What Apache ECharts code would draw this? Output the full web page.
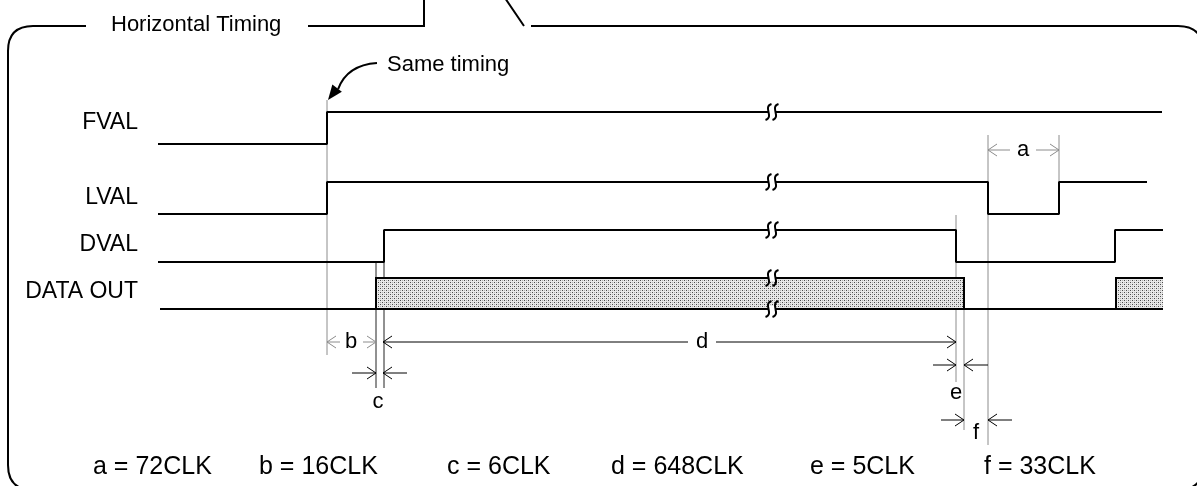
<!DOCTYPE html>
<html><head><meta charset="utf-8">
<script src="https://cdn.jsdelivr.net/npm/echarts@6/dist/echarts.min.js"></script>
<style>html,body{margin:0;padding:0;background:#fff}#c{width:1197px;height:486px}</style>
</head><body><div id="c"></div>
<script>
// ---------------- data ----------------
const signalNames = ['FVAL', 'LVAL', 'DVAL', 'DATA OUT'];
const laneHigh = [112, 182, 230, 278];
const laneLow  = [144, 214, 262, 309];
const labelY   = [123, 198, 245, 292];
const fvalWave = [[158,0],[327,0],[327,1],[1162,1]];
const lvalWave = [[158,0],[327,0],[327,1],[988,1],[988,0],[1059,0],[1059,1],[1147,1]];
const dvalWave = [[158,0],[384,0],[384,1],[956,1],[956,0],[1115,0],[1115,1],[1163,1]];
const dataBaseline = [[160,0],[1163,0]];
const dataBoxes = [[376,964,1],[1116,1163,0]];
const breakMarks = [[772,112],[772,182],[772,230],[772,278],[772,309]];
const grayGuides = [[327,100,355],[956,215,382],[964,278,430],[988,135,445],[1059,135,182]];
const blackGuides = [[376,262,388],[384,230,388]];
const grayArrows = [[1010,988,150],[1036,1059,150],[340,327,342],[363,376,342]];
const blackArrows = [[688,383,342],[716,956,342],[352,376,373],[407,383,373],[933,956,365],[988,964,365],[941,964,420],[1012,988,420]];
const dimLabels = ['a','b','c','d','e','f'];
const dimLabelPos = [[1023,150],[351,342],[378,402],[702,342],[956,393],[976,433]];
const legendTexts = ['a = 72CLK','b = 16CLK','c = 6CLK','d = 648CLK','e = 5CLK','f = 33CLK'];
const legendX = [93,259,447,611,810,984];
const legendY = 467;
const titleText = 'Horizontal Timing';
const titlePos = [111, 25];
const noteText = 'Same timing';
const notePos = [387, 65];
const noteArrow = [[377,63],[328,100]];

// ---------------- helpers ----------------
const FONT = '"Liberation Sans", Arial, Helvetica, sans-serif';
function waveData(wave, lane) {
  return wave.map(p => [p[0], p[1] ? laneHigh[lane] : laneLow[lane]]);
}
const pat = document.createElement('canvas');
pat.width = 4; pat.height = 4;
(function () {
  const g = pat.getContext('2d');
  g.fillStyle = '#e8e8e8'; g.fillRect(0, 0, 4, 4);
  g.fillStyle = '#4a4a4a'; g.fillRect(0, 0, 1, 1); g.fillRect(2, 2, 1, 1);
  g.fillStyle = '#b0b0b0'; g.fillRect(2, 0, 1, 1); g.fillRect(0, 2, 1, 1);
})();

function textSeries(data, texts, font, align) {
  return {
    type: 'custom', z: 10, silent: true,
    data: data,
    renderItem: (params, api) => {
      const p = api.coord([api.value(0), api.value(1)]);
      return { type: 'text', x: p[0], y: p[1],
        style: { text: texts[params.dataIndex], font: font, fill: '#000', align: align, verticalAlign: 'middle' } };
    }
  };
}
function guideSeries(data, color) {
  return {
    type: 'custom', z: 1, silent: true, data: data,
    renderItem: (params, api) => {
      const a = api.coord([api.value(0), api.value(1)]);
      const b = api.coord([api.value(0), api.value(2)]);
      return { type: 'line', shape: { x1: a[0], y1: a[1], x2: b[0], y2: b[1] },
        style: { stroke: color, lineWidth: 1 } };
    }
  };
}
function arrowSeries(data, color) {
  return {
    type: 'custom', z: 2, silent: true, data: data,
    renderItem: (params, api) => {
      const a = api.coord([api.value(0), api.value(2)]);
      const b = api.coord([api.value(1), api.value(2)]);
      const s = b[0] > a[0] ? 1 : -1;
      return { type: 'group', children: [
        { type: 'line', shape: { x1: a[0], y1: a[1], x2: b[0], y2: b[1] }, style: { stroke: color, lineWidth: 1 } },
        { type: 'polyline', shape: { points: [[b[0] - s * 9, b[1] - 6], [b[0], b[1]], [b[0] - s * 9, b[1] + 6]] },
          style: { stroke: color, lineWidth: 1, fill: null } }
      ] };
    }
  };
}
function lineSeries(data) {
  return { type: 'line', data: data, symbol: 'none', z: 5, silent: true,
    lineStyle: { color: '#000', width: 2 }, clip: false };
}

const chart = echarts.init(document.getElementById('c'), null, { renderer: 'canvas' });
chart.setOption({
  animation: false,
  backgroundColor: '#fff',
  grid: { left: 0, right: 0, top: 0, bottom: 0 },
  xAxis: { type: 'value', min: 0, max: 1197, show: false },
  yAxis: { type: 'value', min: 0, max: 486, inverse: true, show: false },
  series: [
    // frame
    {
      type: 'custom', z: 1, silent: true, data: [[0, 0]],
      renderItem: (params, api) => {
        const c = (x, y) => api.coord([x, y]).join(' ');
        const L = 8, R = 1203, T = 26, B = 490, r = 25;
        const d = 'M' + c(86, T) + ' L' + c(L + r, T) + ' Q' + c(L, T) + ' ' + c(L, T + r) +
          ' L' + c(L, B - r) + ' Q' + c(L, B) + ' ' + c(L + r, B) + ' L' + c(R - r, B) +
          ' Q' + c(R, B) + ' ' + c(R, B - r) + ' L' + c(R, T + r) + ' Q' + c(R, T) + ' ' + c(R - r, T) +
          ' L' + c(531, T) +
          ' M' + c(308, T) + ' L' + c(424, T) + ' L' + c(424, -2) +
          ' M' + c(505, -2) + ' L' + c(524, T);
        return { type: 'path', shape: { pathData: d }, style: { stroke: '#000', lineWidth: 2, fill: null } };
      }
    },
    guideSeries(grayGuides, '#8c8c8c'),
    guideSeries(blackGuides, '#222'),
    arrowSeries(grayArrows, '#8c8c8c'),
    arrowSeries(blackArrows, '#000'),
    // data-out shaded boxes
    {
      type: 'custom', z: 3, silent: true, data: dataBoxes,
      renderItem: (params, api) => {
        const x0 = api.value(0), x1 = api.value(1), closed = api.value(2);
        const tl = api.coord([x0, laneHigh[3]]), br = api.coord([x1, laneLow[3]]);
        const pts = [[tl[0], br[1]], [tl[0], tl[1]], [br[0], tl[1]]];
        if (closed) pts.push([br[0], br[1]]);
        return { type: 'group', children: [
          { type: 'rect', shape: { x: tl[0], y: tl[1], width: br[0] - tl[0], height: br[1] - tl[1] },
            style: { fill: { image: pat, repeat: 'repeat' } } },
          { type: 'polyline', shape: { points: pts }, style: { stroke: '#000', lineWidth: 2, fill: null } }
        ] };
      }
    },
    lineSeries(waveData(fvalWave, 0)),
    lineSeries(waveData(lvalWave, 1)),
    lineSeries(waveData(dvalWave, 2)),
    lineSeries(waveData(dataBaseline, 3)),
    // break marks
    {
      type: 'custom', z: 8, silent: true, data: breakMarks,
      renderItem: (params, api) => {
        const p = api.coord([api.value(0), api.value(1)]);
        const x = p[0], y = p[1];
        const s = (x0) => 'M' + (x0 + 3) + ' ' + (y - 8) + ' C' + (x0 - 6) + ' ' + (y - 5) + ' ' +
          (x0 + 6) + ' ' + (y + 5) + ' ' + (x0 - 3) + ' ' + (y + 8);
        return { type: 'group', children: [
          { type: 'rect', shape: { x: x - 3, y: y - 3, width: 6, height: 6 }, style: { fill: '#fff' } },
          { type: 'path', shape: { pathData: s(x - 3.5) + ' ' + s(x + 3.5) },
            style: { stroke: '#000', lineWidth: 2, fill: null } }
        ] };
      }
    },
    // "Same timing" curved arrow
    {
      type: 'custom', z: 9, silent: true, data: [noteArrow[0].concat(noteArrow[1])],
      renderItem: (params, api) => {
        const a = api.coord([api.value(0), api.value(1)]);
        const b = api.coord([api.value(2), api.value(3)]);
        const cx = a[0] - 30, cy = a[1] + 2;
        const ang = Math.atan2(b[1] - (a[1] + 20), b[0] - (a[0] - 36));
        const len = 15, w = 6;
        const bx = b[0] - Math.cos(ang) * len, by = b[1] - Math.sin(ang) * len;
        const nx = -Math.sin(ang) * w, ny = Math.cos(ang) * w;
        return { type: 'group', children: [
          { type: 'path', shape: { pathData: 'M' + a[0] + ' ' + a[1] + ' Q' + cx + ' ' + cy + ' ' + (bx + 1) + ' ' + (by + 1) },
            style: { stroke: '#000', lineWidth: 2, fill: null } },
          { type: 'polygon', shape: { points: [[b[0], b[1]], [bx + nx, by + ny], [bx - nx, by - ny]] },
            style: { fill: '#000' } }
        ] };
      }
    },
    textSeries(labelY.map(y => [138, y]), signalNames, '23px ' + FONT, 'right'),
    textSeries(dimLabelPos, dimLabels, '22px ' + FONT, 'center'),
    textSeries(legendX.map(x => [x, legendY]), legendTexts, '25px ' + FONT, 'left'),
    textSeries([titlePos], [titleText], '22px ' + FONT, 'left'),
    textSeries([notePos], [noteText], '22px ' + FONT, 'left')
  ]
});
</script></body></html>
